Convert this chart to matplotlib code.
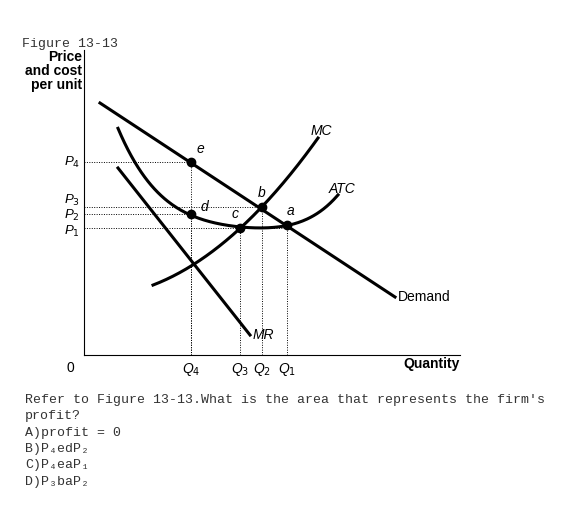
import matplotlib
matplotlib.use('Agg')
import matplotlib.pyplot as plt
import numpy as np

# Values (x: quantity units, y: price units, origin at 0)
q_labels = ['Q$_4$', 'Q$_3$', 'Q$_2$', 'Q$_1$']
q_vals = [107, 156, 178, 203]
p_labels = ['P$_4$', 'P$_3$', 'P$_2$', 'P$_1$']
p_vals = [193, 148, 141, 127]

demand_x = [16, 311]
demand_y = [252, 58]
mr_x = [34, 166]
mr_y = [187, 20]
mc_x = [69, 109, 156, 178, 234]
mc_y = [70, 90, 127, 148, 217]
atc_x = [34, 60, 107, 156, 203, 254]
atc_y = [227, 178, 141, 127, 130, 160]

# points: label, x, y, label offset
points = [('e', 107, 193, (4, 4)), ('d', 107, 141, (7, 0)), ('c', 156, 127, (-6, 5)),
          ('b', 178, 148, (-3, 5)), ('a', 203, 130, (0, 5))]

W, H = 561, 518
fig = plt.figure(figsize=(W / 100, H / 100), dpi=100)
ax = fig.add_axes([84 / W, (518 - 355) / H, 376 / W, 305 / H])
ax.set_xlim(0, 376)
ax.set_ylim(0, 305)
for s in ['top', 'right']:
    ax.spines[s].set_visible(False)
ax.set_xticks([])
ax.set_yticks([])

lw = 2.2
ax.plot(demand_x, demand_y, color='black', lw=lw, clip_on=False)
ax.plot(mr_x, mr_y, color='black', lw=lw)
mc_fit = np.polyfit(mc_x, mc_y, 2)
xs = np.linspace(mc_x[0], mc_x[-1], 200)
ax.plot(xs, np.polyval(mc_fit, xs), color='black', lw=lw)
atc_fit = np.polyfit(atc_x, atc_y, 4)
xs = np.linspace(atc_x[0], atc_x[-1], 200)
ax.plot(xs, np.polyval(atc_fit, xs), color='black', lw=lw)

dot = dict(color='black', lw=0.7, ls=(0, (1, 1.5)))
for q, p in [(107, 193), (107, 141), (156, 127), (178, 148), (203, 130)]:
    ax.plot([q, q], [0, p], **dot)
for p, qend in zip(p_vals, [107, 178, 107, 203]):
    ax.plot([0, qend], [p, p], **dot)

for lab, x, y, off in points:
    ax.plot(x, y, 'o', color='black', ms=6)
    ax.annotate(lab, (x, y), xytext=off, textcoords='offset points', fontsize=10,
                style='italic', family='Liberation Sans', ha='left', va='bottom')

tf = dict(family='Liberation Sans', fontsize=10)
for lab, q in zip(q_labels, q_vals):
    ax.text(q, -6, lab, ha='center', va='top', style='italic', **tf)
for lab, p, dy in zip(p_labels, p_vals, [0, 7, -1, -3]):
    ax.text(-4, p + dy, lab, ha='right', va='center', style='italic', fontsize=9.5,
            family='Liberation Sans')
ax.text(-10, -6, '0', ha='right', va='top', **tf)
ax.text(376, -2, 'Quantity', ha='right', va='top', weight='bold', **tf)
ax.text(-2, 305, 'Price\nand cost\nper unit', ha='right', va='top', weight='bold',
        linespacing=1.0, **tf)
ax.text(227, 220, 'MC', style='italic', **tf)
ax.text(245, 162, 'ATC', style='italic', **tf)
ax.text(314, 58, 'Demand', va='center', **tf)
ax.text(169, 20, 'MR', va='center', style='italic', **tf)

mono = dict(family=['Liberation Mono', 'DejaVu Sans Mono'], fontsize=9.5, color='#333333')
fig.text(22 / W, 1 - 44 / H, 'Figure 13-13', va='center', **mono)
question = ["Refer to Figure 13-13.What is the area that represents the firm's",
            "profit?", "A)profit = 0", "B)P\u2084edP\u2082", "C)P\u2084eaP\u2081", "D)P\u2083baP\u2082"]
for i, line in enumerate(question):
    fig.text(25 / W, 1 - (400 + i * 16.3) / H, line, va='center', **mono)

fig.savefig('out.png', dpi=100)
